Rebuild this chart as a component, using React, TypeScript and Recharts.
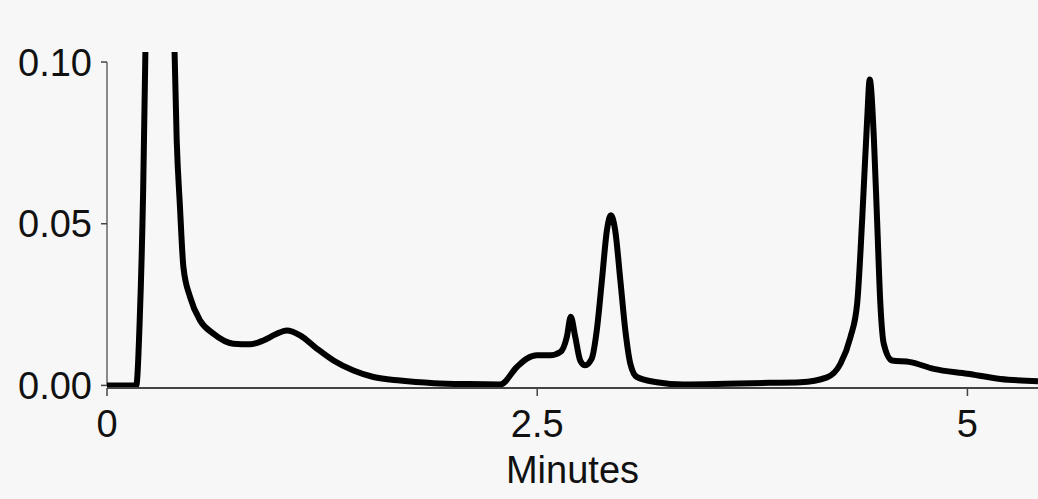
import { LineChart, Line, XAxis, YAxis, ReferenceLine, Label } from 'recharts';

// retention time (minutes) and detector response (AU)
const minutes = [
  0, 0.17, 0.19, 0.21, 0.225, 0.3, 0.385, 0.405, 0.424, 0.444, 0.483, 0.541,
  0.618, 0.734, 0.831, 0.909, 0.98, 1.045, 1.122, 1.219, 1.316, 1.432, 1.548,
  1.703, 1.9, 2.1, 2.285, 2.382, 2.44, 2.498, 2.576, 2.634, 2.672, 2.695,
  2.721, 2.75, 2.779, 2.817, 2.846, 2.876, 2.905, 2.928, 2.953, 2.983, 3.012,
  3.041, 3.079, 3.195, 3.35, 3.6, 3.85, 4.029, 4.184, 4.262, 4.32, 4.359,
  4.388, 4.417, 4.432, 4.456, 4.475, 4.494, 4.514, 4.562, 4.669, 4.804, 5.0,
  5.192, 5.41,
];

const absorbance = [
  0, 0, 0.02, 0.06, 0.11, 0.45, 0.12, 0.0759, 0.0552, 0.0366, 0.0273, 0.0201,
  0.016, 0.0129, 0.0127, 0.0139, 0.0158, 0.017, 0.0155, 0.0114, 0.0077, 0.0046,
  0.0026, 0.0015, 0.0007, 0.0004, 0.0003, 0.0057, 0.0083, 0.0093, 0.0093,
  0.0103, 0.015, 0.0212, 0.015, 0.0077, 0.0062, 0.0083, 0.017, 0.0325, 0.048,
  0.0526, 0.048, 0.0325, 0.017, 0.0067, 0.0026, 0.001, 0.0003, 0.0005, 0.0008,
  0.001, 0.0025, 0.0067, 0.0149, 0.0252, 0.051, 0.082, 0.0946, 0.0768, 0.051,
  0.0252, 0.0128, 0.0077, 0.0072, 0.0051, 0.0036, 0.002, 0.0013,
];

const xTicks = [0, 2.5, 5];
const yTicks = [0, 0.05, 0.1];

const data = minutes.map((t, i) => ({ t, v: absorbance[i] }));

const tickStyle = { fill: '#111', fontSize: 38 };

export default function App() {
  return (
    <div
      style={{
        position: 'absolute',
        left: 0,
        top: 0,
        width: 1038,
        height: 499,
        background: '#f7f7f7',
        fontFamily: '"Liberation Sans", Arial, sans-serif',
      }}
    >
      <LineChart
        width={1038}
        height={499}
        data={data}
        margin={{ top: 52, right: 0, bottom: 0, left: 0 }}
      >
        <XAxis
          dataKey="t"
          type="number"
          domain={[0, 5.41]}
          ticks={xTicks}
          interval={0}
          allowDataOverflow
          height={111}
          tickSize={8}
          tickMargin={14}
          tick={tickStyle}
          axisLine={{ stroke: '#444', strokeWidth: 2 }}
          tickLine={{ stroke: '#444', strokeWidth: 1.5 }}
        >
          <Label
            value="Minutes"
            position="insideBottom"
            offset={16}
            style={{ fill: '#111', fontSize: 38 }}
          />
        </XAxis>
        <YAxis
          type="number"
          domain={[-0.0008, 0.1031]}
          ticks={yTicks}
          interval={0}
          allowDataOverflow
          width={107}
          tickSize={6}
          tickMargin={9}
          tick={tickStyle}
          tickFormatter={(v: number) => v.toFixed(2)}
          axisLine={false}
          tickLine={{ stroke: '#444', strokeWidth: 1.5 }}
        />
        <ReferenceLine
          segment={[
            { x: 0, y: 0 },
            { x: 0, y: 0.1 },
          ]}
          stroke="#666"
          strokeWidth={1.5}
          ifOverflow="visible"
        />
        <Line
          type="monotone"
          dataKey="v"
          stroke="#000"
          strokeWidth={6}
          dot={false}
          isAnimationActive={false}
        />
      </LineChart>
    </div>
  );
}
